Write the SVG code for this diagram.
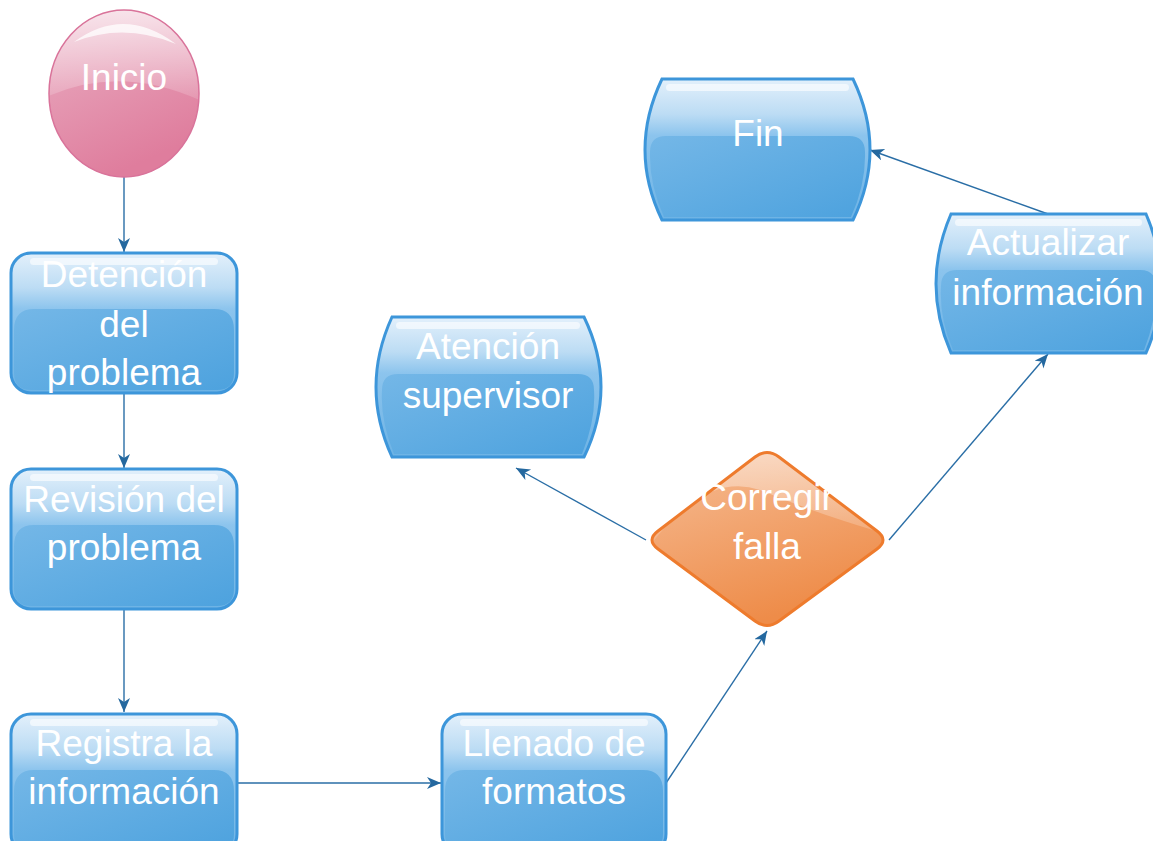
<svg xmlns="http://www.w3.org/2000/svg" width="1153" height="841" viewBox="0 0 1153 841">
<style>
.lbl{font-family:"Liberation Sans",Arial,sans-serif;font-size:37px;fill:#ffffff;text-anchor:middle}
.box{fill:url(#gBlue);stroke:#3d96da;stroke-width:3}
.hl{fill:#ffffff;opacity:0.6}
.band{fill:url(#gBand)}
.con{fill:none;stroke:#2a6ea6;stroke-width:1.4;marker-end:url(#arr)}
</style>
<defs>
<linearGradient id="gBlue" x1="0" y1="0" x2="0" y2="1">
<stop offset="0" stop-color="#e3f0fb"/>
<stop offset="0.25" stop-color="#bcdcf4"/>
<stop offset="0.4" stop-color="#8cc4ed"/>
<stop offset="1" stop-color="#6db3e5"/>
</linearGradient>
<linearGradient id="gBand" x1="0" y1="0" x2="1" y2="1">
<stop offset="0" stop-color="#74b7e7"/>
<stop offset="1" stop-color="#4da2de"/>
</linearGradient>
<linearGradient id="gPink" x1="0" y1="0" x2="0.4" y2="1">
<stop offset="0" stop-color="#eab0c4"/>
<stop offset="1" stop-color="#df7d9d"/>
</linearGradient>
<linearGradient id="gOrange" x1="0" y1="0" x2="0.4" y2="1">
<stop offset="0" stop-color="#f6bd96"/>
<stop offset="1" stop-color="#ee8c49"/>
</linearGradient>
<linearGradient id="gWhite" x1="0" y1="0" x2="0" y2="1">
<stop offset="0" stop-color="#ffffff" stop-opacity="0.75"/>
<stop offset="1" stop-color="#ffffff" stop-opacity="0.1"/>
</linearGradient>
<clipPath id="cInicio"><ellipse cx="124" cy="93.5" rx="75" ry="83.5"/></clipPath>
<clipPath id="cDiam"><path d="M755,457 Q767,448 779,457 L877,531 Q889,540 877,549 L779,621 Q767,630 755,621 L658,549 Q646,540 658,531 Z"/></clipPath>
<marker id="arr" markerUnits="userSpaceOnUse" markerWidth="16" markerHeight="14" refX="14" refY="6" orient="auto">
<path d="M0,0 L14,6 L0,12 L4,6 Z" fill="#24689f"/>
</marker>
</defs>

<g id="connectors">
<line class="con" x1="124" y1="177" x2="124" y2="252"/>
<line class="con" x1="124" y1="393" x2="124" y2="468"/>
<line class="con" x1="124" y1="609" x2="124" y2="712"/>
<line class="con" x1="237" y1="783" x2="441" y2="783"/>
<line class="con" x1="666" y1="783" x2="767" y2="631"/>
<line class="con" x1="646" y1="540" x2="516" y2="468"/>
<line class="con" x1="889" y1="540" x2="1048" y2="354"/>
<line class="con" x1="1048" y1="214" x2="870" y2="150"/>
</g>

<g id="inicio">
<ellipse cx="124" cy="93.5" rx="75" ry="83.5" fill="url(#gPink)"/>
<path d="M40,100 Q120,60 210,105 L210,0 L40,0 Z" fill="url(#gWhite)" clip-path="url(#cInicio)"/>
<ellipse cx="124" cy="93.5" rx="75" ry="83.5" fill="none" stroke="#d9739a" stroke-width="1.5"/>
<path d="M74,42 Q124,5 176,44 Q124,22 74,42 Z" fill="#ffffff" opacity="0.75"/>
<text class="lbl" x="124" y="90">Inicio</text>
</g>

<g id="deteccion">
<rect class="box" x="11" y="253" width="226" height="140" rx="20"/>
<path class="band" d="M14,330 Q14,309 34,309 L214,309 Q234,309 234,330 L234,373 Q234,390 217,390 L31,390 Q14,390 14,373 Z"/>
<rect class="hl" x="30" y="258" width="188" height="7" rx="3.5"/>
<text class="lbl" x="124" y="287">Detención</text>
<text class="lbl" x="124" y="337">del</text>
<text class="lbl" x="124" y="385">problema</text>
</g>

<g id="revision">
<rect class="box" x="11" y="469" width="226" height="140" rx="20"/>
<path class="band" d="M14,546 Q14,525 34,525 L214,525 Q234,525 234,546 L234,589 Q234,606 217,606 L31,606 Q14,606 14,589 Z"/>
<rect class="hl" x="30" y="474" width="188" height="7" rx="3.5"/>
<text class="lbl" x="124" y="512">Revisión del</text>
<text class="lbl" x="124" y="560">problema</text>
</g>

<g id="registra">
<rect class="box" x="11" y="714" width="226" height="140" rx="20"/>
<path class="band" d="M14,791 Q14,770 34,770 L214,770 Q234,770 234,791 L234,834 Q234,851 217,851 L31,851 Q14,851 14,834 Z"/>
<rect class="hl" x="30" y="719" width="188" height="7" rx="3.5"/>
<text class="lbl" x="124" y="756">Registra la</text>
<text class="lbl" x="124" y="804">información</text>
</g>

<g id="llenado">
<rect class="box" x="442" y="714" width="224" height="140" rx="20"/>
<path class="band" d="M445,791 Q445,770 465,770 L643,770 Q663,770 663,791 L663,834 Q663,851 646,851 L462,851 Q445,851 445,834 Z"/>
<rect class="hl" x="460" y="719" width="188" height="7" rx="3.5"/>
<text class="lbl" x="554" y="756">Llenado de</text>
<text class="lbl" x="554" y="804">formatos</text>
</g>

<g id="corregir">
<path d="M755,457 Q767,448 779,457 L877,531 Q889,540 877,549 L779,621 Q767,630 755,621 L658,549 Q646,540 658,531 Z" fill="url(#gOrange)"/>
<path d="M640,560 Q700,470 760,490 Q820,515 890,535 L890,440 L640,440 Z" fill="url(#gWhite)" opacity="0.7" clip-path="url(#cDiam)"/>
<path d="M755,457 Q767,448 779,457 L877,531 Q889,540 877,549 L779,621 Q767,630 755,621 L658,549 Q646,540 658,531 Z" fill="none" stroke="#ee7b2d" stroke-width="3"/>
<text class="lbl" x="767" y="510">Corregir</text>
<text class="lbl" x="767" y="559">falla</text>
</g>

<g id="atencion">
<path class="box" d="M392,317 L584,317 Q618,387 584,457 L392,457 Q360,387 392,317 Z"/>
<path class="band" d="M382,390 Q382,374 398,374 L578,374 Q594,374 594,390 Q596,420 582,454 L394,454 Q380,420 382,390 Z"/>
<rect class="hl" x="396" y="322" width="184" height="7" rx="3.5"/>
<text class="lbl" x="488" y="359">Atención</text>
<text class="lbl" x="488" y="408">supervisor</text>
</g>

<g id="actualizar">
<path class="box" d="M951,214 L1146,214 Q1176,284 1146,353 L951,353 Q921,284 951,214 Z"/>
<path class="band" d="M941,286 Q941,270 957,270 L1140,270 Q1156,270 1156,286 Q1157,318 1144,350 L953,350 Q939,318 941,286 Z"/>
<rect class="hl" x="955" y="219" width="187" height="7" rx="3.5"/>
<text class="lbl" x="1048" y="255">Actualizar</text>
<text class="lbl" x="1048" y="305">información</text>
</g>

<g id="fin">
<path class="box" d="M662,79 L853,79 Q887,150 853,220 L662,220 Q628,150 662,79 Z"/>
<path class="band" d="M650,152 Q650,136 666,136 L849,136 Q865,136 865,152 Q866,184 851,217 L664,217 Q649,184 650,152 Z"/>
<rect class="hl" x="666" y="84" width="183" height="7" rx="3.5"/>
<text class="lbl" x="758" y="146">Fin</text>
</g>
</svg>
